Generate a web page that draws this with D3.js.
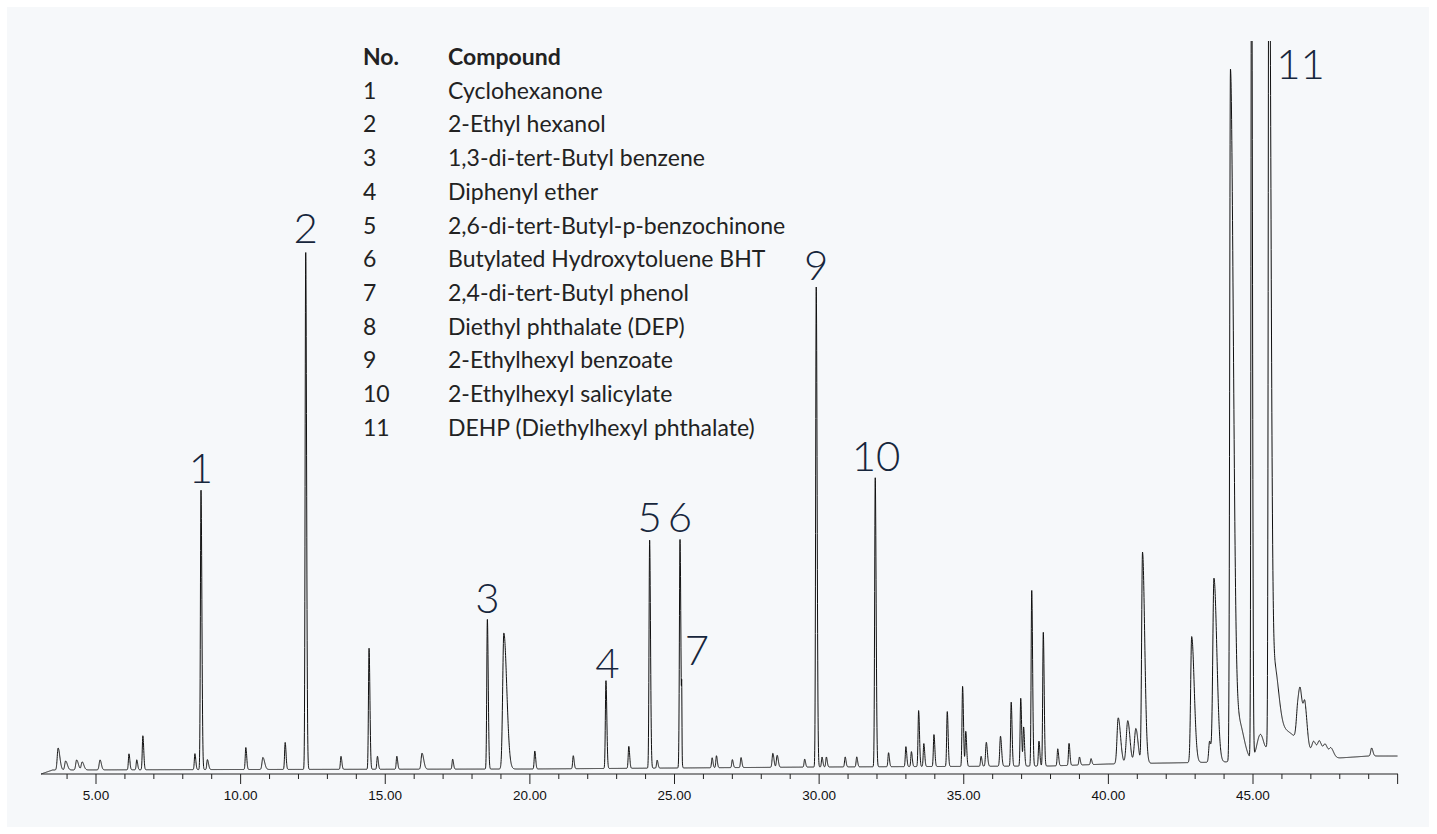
<!DOCTYPE html>
<html>
<head>
<meta charset="utf-8">
<script src="https://cdn.jsdelivr.net/npm/d3@7"></script>
<style>
  body { margin: 0; background: #ffffff; }
  svg { display: block; }
</style>
</head>
<body>
<div id="chart"></div>
<script>
// Define SVG area dimensions
var svgWidth = 1437;
var svgHeight = 834;

// Peak table: retention time (min), height, width, tailing
var peakTimes = [3.69, 3.95, 4.33, 4.52, 5.14, 6.14, 6.41, 6.62, 8.42, 8.63, 8.85,
  10.18, 10.77, 11.54, 12.25, 13.47, 14.44, 14.73, 15.4, 16.27, 17.33, 18.53, 19.1,
  20.17, 21.5, 22.63, 23.42, 24.14, 24.4, 25.19, 25.25, 26.3, 26.45, 27.0, 27.3,
  28.4, 28.55, 29.5, 29.9, 30.1, 30.25, 30.9, 31.3, 31.94, 32.4,
  33.0, 33.19, 33.44, 33.62, 33.97, 34.43, 34.96, 35.07, 35.6, 35.78, 36.27, 36.64,
  36.97, 37.07, 37.35, 37.6, 37.75, 38.25, 38.64, 39.0, 39.4,
  40.34, 40.67, 40.95, 41.18, 42.88, 43.5, 43.65, 44.22, 44.5, 44.95, 45.25, 45.55,
  45.72, 46.0, 46.55, 46.65, 46.8, 47.1, 47.3, 47.5, 47.7, 49.1];
var peakHeights = [22, 9, 10, 8, 10, 16, 10, 34, 16, 280, 10,
  22, 12, 27, 518, 13, 121, 13, 13, 16, 10, 150, 136,
  18, 13, 88, 22, 228, 8, 229, 55, 10, 12, 8, 10,
  14, 12, 8, 480, 10, 10, 10, 10, 289, 14,
  20, 15, 56, 23, 32, 55, 80, 35, 10, 24, 30, 64,
  68, 39, 176, 25, 134, 17, 22, 8, 6,
  46, 43, 35, 211, 126, 21, 184, 690, 40, 900, 25, 900,
  75, 30, 30, 40, 35, 12, 14, 12, 9, 8];
var peakWidths = [0.03, 0.03, 0.03, 0.03, 0.03, 0.02, 0.02, 0.02, 0.02, 0.02, 0.02,
  0.02, 0.03, 0.02, 0.02, 0.02, 0.02, 0.02, 0.02, 0.03, 0.02, 0.02, 0.04,
  0.02, 0.02, 0.02, 0.02, 0.02, 0.02, 0.02, 0.008, 0.02, 0.02, 0.02, 0.02,
  0.025, 0.025, 0.02, 0.02, 0.02, 0.02, 0.02, 0.02, 0.02, 0.02,
  0.02, 0.02, 0.02, 0.02, 0.02, 0.02, 0.02, 0.02, 0.02, 0.025, 0.025, 0.02,
  0.02, 0.02, 0.02, 0.02, 0.02, 0.02, 0.02, 0.02, 0.02,
  0.04, 0.05, 0.05, 0.03, 0.035, 0.03, 0.04, 0.025, 0.12, 0.02, 0.12, 0.022,
  0.1, 0.3, 0.05, 0.06, 0.05, 0.06, 0.06, 0.06, 0.06, 0.03];
var peakTails = [2, 2, 2, 2, 1.5, 1.5, 1.5, 1.5, 1.5, 1.5, 2,
  1.5, 2, 1.5, 1.5, 1.5, 1.5, 1.5, 1.5, 2, 1.5, 1.5, 2.5,
  1.5, 1.5, 1.5, 1.5, 1.5, 1.5, 1.5, 1, 1.5, 1.5, 1.5, 1.5,
  1.5, 1.5, 1.5, 1.5, 1.5, 1.5, 1.5, 1.5, 1.5, 1.5,
  1.5, 1.5, 1.5, 1.5, 1.5, 1.5, 1.5, 1.5, 1.5, 1.5, 1.5, 1.5,
  1.5, 1.5, 1.5, 1.5, 1.5, 1.5, 1.5, 1.5, 1.5,
  2, 1.5, 1.5, 2.5, 2.5, 1.5, 2.5, 4, 1.5, 1.5, 1, 3,
  1.5, 2, 1.5, 1.5, 1.5, 1.5, 1.5, 1.5, 1.5, 1.5];

// Baseline drift
var baseTimes = [3.1, 3.5, 10, 20, 25, 30, 38, 40, 42, 44, 46, 48, 49, 50];
var baseValues = [-4, 0, 0.5, 1, 2, 3, 4, 6, 7, 8, 10, 12, 14, 14];

// Axis ticks
var majorTicks = [5, 10, 15, 20, 25, 30, 35, 40, 45];

// Labelled peaks and legend
var labelText = ["1", "2", "3", "4", "5", "6", "7", "9", "10", "11"];
var labelTime = [8.63, 12.25, 18.53, 22.68, 24.14, 25.19, 25.78, 29.9, 31.97, 45.8];
var labelValue = [287, 527, 157, 92, 238, 238, 105, 490, 299, 691];
var legendNo = ["1", "2", "3", "4", "5", "6", "7", "8", "9", "10", "11"];
var legendCompound = ["Cyclohexanone", "2-Ethyl hexanol", "1,3-di-tert-Butyl benzene",
  "Diphenyl ether", "2,6-di-tert-Butyl-p-benzochinone", "Butylated Hydroxytoluene BHT",
  "2,4-di-tert-Butyl phenol", "Diethyl phthalate (DEP)", "2-Ethylhexyl benzoate",
  "2-Ethylhexyl salicylate", "DEHP (Diethylhexyl phthalate)"];

var svg = d3.select("#chart")
  .append("svg")
  .attr("width", svgWidth)
  .attr("height", svgHeight);

// Light panel
svg.append("rect")
  .attr("x", 7).attr("y", 7)
  .attr("width", 1422).attr("height", 820)
  .attr("fill", "#f6f8fa");

// Scales
var xScale = d3.scaleLinear().domain([5, 45]).range([96, 1253]);
var yScale = d3.scaleLinear().domain([0, 730]).range([770, 40]);
var baseScale = d3.scaleLinear().domain(baseTimes).range(baseValues);

// Build the trace from the peak table
function signal(t) {
  var s = baseScale(t);
  for (var i = 0; i < peakTimes.length; i++) {
    var dt = t - peakTimes[i];
    var w = dt > 0 ? peakWidths[i] * peakTails[i] : peakWidths[i];
    var z = dt / w;
    if (Math.abs(z) < 8) s += peakHeights[i] * Math.exp(-0.5 * z * z);
  }
  return s;
}
var trace = d3.range(3.1, 50.0, 0.004).map(function(t) { return [t, signal(t)]; });

svg.append("clipPath").attr("id", "plotClip")
  .append("rect").attr("x", 30).attr("y", 41).attr("width", 1400).attr("height", 740);

var line = d3.line()
  .x(function(d) { return xScale(d[0]); })
  .y(function(d) { return yScale(d[1]); });

svg.append("path")
  .datum(trace)
  .attr("clip-path", "url(#plotClip)")
  .attr("fill", "none")
  .attr("stroke", "#111")
  .attr("stroke-width", 1)
  .attr("d", line);

// Bottom axis
var axisG = svg.append("g").attr("transform", "translate(0,774)");
axisG.append("line")
  .attr("x1", 41).attr("x2", 1398)
  .attr("stroke", "#222").attr("stroke-width", 1.2);
axisG.selectAll(".minor")
  .data(d3.range(4, 51, 1))
  .enter().append("line")
  .attr("x1", function(d) { return xScale(d); })
  .attr("x2", function(d) { return xScale(d); })
  .attr("y1", 0)
  .attr("y2", function(d) { return (majorTicks.indexOf(d) >= 0 || d === 50) ? 10 : 5; })
  .attr("stroke", "#222");
axisG.selectAll(".tlabel")
  .data(majorTicks)
  .enter().append("text")
  .attr("x", function(d) { return xScale(d); })
  .attr("y", 26)
  .attr("text-anchor", "middle")
  .attr("font-family", "Liberation Sans, Arial, sans-serif")
  .attr("font-size", 13.5)
  .attr("fill", "#111")
  .text(function(d) { return d.toFixed(2); });

// Peak numbers
svg.selectAll(".plabel")
  .data(labelText)
  .enter().append("text")
  .attr("x", function(d, i) { return xScale(labelTime[i]); })
  .attr("y", function(d, i) { return yScale(labelValue[i]); })
  .attr("text-anchor", function(d) { return d === "11" ? "start" : "middle"; })
  .attr("font-family", "Lato, sans-serif")
  .attr("font-weight", 300)
  .attr("font-size", 42)
  .attr("fill", "#17263c")
  .text(function(d) { return d; });

// Compound table
var legend = svg.append("g").attr("font-family", "Lato, sans-serif").attr("fill", "#222");
legend.append("text").attr("x", 363).attr("y", 65)
  .attr("font-size", 23).attr("font-weight", 700).text("No.");
legend.append("text").attr("x", 448).attr("y", 65)
  .attr("font-size", 23).attr("font-weight", 700).text("Compound");
legendNo.forEach(function(n, i) {
  legend.append("text").attr("x", 363).attr("y", 65 + 33.7 * (i + 1))
    .attr("font-size", 23).text(n);
  legend.append("text").attr("x", 448).attr("y", 65 + 33.7 * (i + 1))
    .attr("font-size", 23).text(legendCompound[i]);
});
</script>
</body>
</html>
